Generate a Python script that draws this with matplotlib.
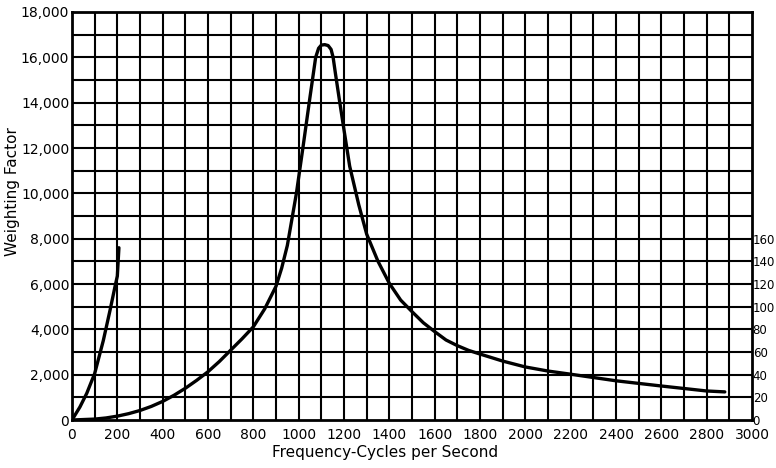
import matplotlib
matplotlib.use("Agg")
import matplotlib.pyplot as plt

plt.rcParams["font.family"] = ["DejaVu Sans Condensed", "DejaVu Sans"]

# Main weighting curve (left scale)
main_freq = [0, 100, 150, 200, 250, 300, 350, 400, 450, 500, 550, 600, 650, 700, 750, 800,
             850, 900, 925, 950, 990, 1020, 1050, 1075, 1088, 1100, 1115, 1130, 1143, 1152,
             1162, 1180, 1200, 1225, 1265, 1300, 1350, 1400, 1450, 1500, 1550, 1600, 1650,
             1700, 1750, 1800, 1900, 2000, 2100, 2200, 2400, 2600, 2800, 2880]
main_val = [0, 40, 90, 170, 280, 420, 600, 820, 1090, 1400, 1750, 2130, 2580, 3080, 3580,
            4110, 4900, 5900, 6700, 7700, 10000, 12100, 14250, 16000, 16400, 16540, 16560,
            16520, 16350, 16000, 15300, 14100, 12800, 11200, 9500, 8200, 7000, 6030, 5290,
            4780, 4290, 3900, 3530, 3280, 3070, 2910, 2600, 2340, 2160, 2020, 1730, 1500,
            1280, 1240]

# Low-frequency curve (right scale)
low_freq = [0, 35, 65, 100, 138, 168, 190, 200, 207]
low_val = [0, 11.5, 23.5, 41, 70, 97, 118, 127, 152]

x_ticks = list(range(0, 3001, 200))
y_ticks = list(range(0, 18001, 2000))
y_tick_labels = ["0", "2,000", "4,000", "6,000", "8,000", "10,000", "12,000",
                 "14,000", "16,000", "18,000"]
right_ticks = list(range(0, 161, 20))

W, H = 776, 468
fig = plt.figure(figsize=(W / 100, H / 100), dpi=100)
ax = fig.add_axes([72 / W, 1 - 420 / H, (752 - 72) / W, (420 - 12) / H])
ax.set_xlim(0, 3000)
ax.set_ylim(0, 18000)

# grid
for xv in range(100, 3000, 100):
    ax.axvline(xv, color="black", lw=1.5, zorder=1)
for yv in range(1000, 18000, 1000):
    ax.axhline(yv, color="black", lw=1.5, zorder=1)
for s in ax.spines.values():
    s.set_linewidth(2.0)

ax.plot(main_freq, main_val, color="black", lw=2.4, solid_joinstyle="round",
        solid_capstyle="round", zorder=3)

ax.set_xticks(x_ticks)
ax.set_xticklabels([str(v) for v in x_ticks])
ax.set_yticks(y_ticks)
ax.set_yticklabels(y_tick_labels)
ax.tick_params(axis="both", length=0, labelsize=10, pad=2)
ax.tick_params(axis="x", pad=6)

ax2 = ax.twinx()
ax2.set_ylim(0, 18000 / 50)
ax2.set_yticks(right_ticks)
ax2.set_yticklabels([str(v) for v in right_ticks])
ax2.tick_params(axis="y", length=0, labelsize=8.5, pad=0.5)
for s in ax2.spines.values():
    s.set_visible(False)
ax2.plot(low_freq, low_val, color="black", lw=2.4, solid_joinstyle="round",
         solid_capstyle="round", zorder=3)

fig.text(13 / W, 1 - 192 / H, "Weighting Factor", rotation=90, ha="center",
         va="center", fontsize=11)
fig.text(385 / W, 1 - 452 / H, "Frequency-Cycles per Second", ha="center",
         va="center", fontsize=11)

fig.savefig("out.png", dpi=100)
